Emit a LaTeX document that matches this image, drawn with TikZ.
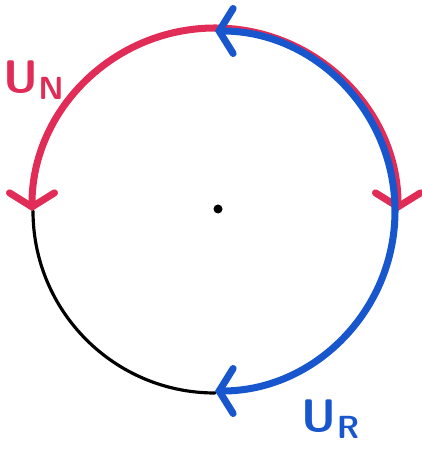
\documentclass[tikz,border=0pt]{standalone}
\usepackage{xcolor}
\usepackage{tikz}
\usetikzlibrary{arrows.meta}

\definecolor{penred}{RGB}{224,44,86}
\definecolor{penblue}{RGB}{24,86,206}

\begin{document}
\begin{tikzpicture}[
   every node/.style={font=\fontsize{26}{30}\selectfont\sffamily\bfseries},
   tip/.tip={Straight Barb[length=0.28cm,width=0.9cm,line cap=round]},
   redpen/.style={penred,line width=4pt,line cap=round,tip-tip},
   bluepen/.style={penblue,line width=4pt,line cap=round,tip-tip},
   blackpen/.style={black,line width=1.8pt,line cap=round}
]
\useasboundingbox (-4.30,-4.82) rectangle (4.14,4.22);

% =========== centre ============
\coordinate (O) at (0,0);
\fill (O) ++(0.06,0.04) circle (0.09);

% =========== arcs ============
% lower left quarter, no arrows
\draw[blackpen] ([shift={(180:3.64)}]O) arc[start angle=180,end angle=270,radius=3.64cm];
% upper half, arrows at both ends
\draw[redpen] ([shift={(180:3.66)}]O) arc[start angle=180,end angle=0,radius=3.66cm];
% right half, drawn a bit inside the red one
\draw[bluepen] ([shift={(90:3.60)}]O) arc[start angle=90,end angle=-90,radius=3.60cm];

% =========== labels ============
\node[penred] (UN) at (-3.62,2.62) {U\textsubscript{N}};
\node[penblue] (UR) at (2.32,-4.16) {U\textsubscript{R}};

\end{tikzpicture}
\end{document}
